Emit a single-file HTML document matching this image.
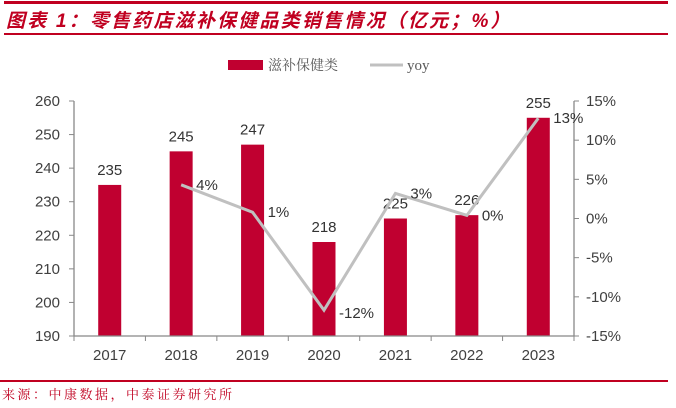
<!DOCTYPE html>
<html><head><meta charset="utf-8"><style>
body{margin:0;width:676px;height:408px;background:#fff;overflow:hidden;position:relative;font-family:"Liberation Sans","Noto Sans CJK SC",sans-serif}
.title{position:absolute;left:6px;top:6px;font-size:19px;font-weight:bold;font-style:italic;color:#c00020;font-family:"Liberation Sans","Noto Sans CJK SC",sans-serif;letter-spacing:2.2px}
.src{position:absolute;left:2px;top:384px;font-size:13px;color:#c00020;font-family:"Liberation Serif","Noto Serif CJK SC",serif;letter-spacing:2.5px}
</style></head><body>
<div style="position:absolute;left:4px;top:1px;width:664px;height:3px;background:#c00020"></div>
<div class="title">图表 1：零售药店滋补保健品类销售情况（亿元；%）</div>
<div style="position:absolute;left:4px;top:33px;width:664px;height:1.5px;background:#c00020"></div>
<div style="position:absolute;left:0px;top:380px;width:668px;height:1.5px;background:#c00020"></div>
<div class="src">来源：中康数据，中泰证券研究所</div>
<svg id="chart" width="676" height="408" style="position:absolute;left:0;top:0" font-family="Liberation Sans, sans-serif"></svg>
<script>
const years=["2017","2018","2019","2020","2021","2022","2023"];
const sales=[235,245,247,218,225,226,255];
const yoy=[null,4.3,0.8,-11.7,3.2,0.4,12.8];
const yoyLabels=["","4%","1%","-12%","3%","0%","13%"];
const leftTicks=[190,200,210,220,230,240,250,260];
const rightTicks=[-15,-10,-5,0,5,10,15];
const svg=document.getElementById('chart');
const NS='http://www.w3.org/2000/svg';
const X0=74,X1=574,YT=101,YB=336;
const band=(X1-X0)/years.length;
const xc=i=>X0+band*(i+0.5);
const yL=v=>YB-(v-190)/(260-190)*(YB-YT);
const yR=v=>YB-(v+15)/30*(YB-YT);
function mk(t,a,txt){const e=document.createElementNS(NS,t);for(const k in a)e.setAttribute(k,a[k]);if(txt!==undefined)e.textContent=txt;svg.appendChild(e);return e;}
years.forEach((y,i)=>{
 const b=mk('rect',{x:xc(i)-11.5,y:yL(sales[i]),width:23,height:YB-yL(sales[i]),fill:'#c00030'});
 
 
 const t=mk('text',{x:xc(i),y:yL(sales[i])-10,'text-anchor':'middle','font-size':15,fill:'#333'},sales[i]);
 
 
 const xl=mk('text',{x:xc(i),y:360,'text-anchor':'middle','font-size':15,fill:'#404040'},y);
 
 
});
const ax=mk('path',{d:`M${X0},${YT} V${YB} H${X1} V${YT}`,stroke:'#888',fill:'none','stroke-width':1.3});


for(let i=0;i<=years.length;i++){mk('line',{x1:X0+band*i,x2:X0+band*i,y1:YB,y2:YB+5,stroke:'#888'});}
leftTicks.forEach(v=>{
 mk('line',{x1:X0-5,x2:X0,y1:yL(v),y2:yL(v),stroke:'#888'});
 const t=mk('text',{x:X0-14,y:yL(v)+5,'text-anchor':'end','font-size':15,fill:'#404040'},v);
 
 
});
rightTicks.forEach(v=>{
 mk('line',{x1:X1,x2:X1+5,y1:yR(v),y2:yR(v),stroke:'#888'});
 const t=mk('text',{x:X1+12,y:yR(v)+5,'font-size':15,fill:'#404040'},v+'%');
 
 
});
let d='';yoy.forEach((v,i)=>{if(v===null)return;d+=(d?'L':'M')+xc(i)+','+yR(v);});
const ln=mk('path',{d:d,stroke:'#c0c0c0','stroke-width':3,fill:'none'});


yoy.forEach((v,i)=>{if(v===null)return;
 const t=mk('text',{x:xc(i)+15,y:yR(v)+(v<-5?8:5),'font-size':15,fill:'#333'},yoyLabels[i]);
 
 
});
const lr=mk('rect',{x:228,y:60,width:35,height:10,fill:'#c00030'});


const lt=mk('text',{x:268,y:70,'font-size':14,fill:'#595959','font-family':'Noto Serif CJK SC, serif'},'滋补保健类');


const ll=mk('line',{x1:370,x2:403,y1:65,y2:65,stroke:'#c0c0c0','stroke-width':3});


const lt2=mk('text',{x:407,y:70,'font-size':15,fill:'#595959','font-family':'Liberation Serif, serif'},'yoy');


</script>
</body></html>
